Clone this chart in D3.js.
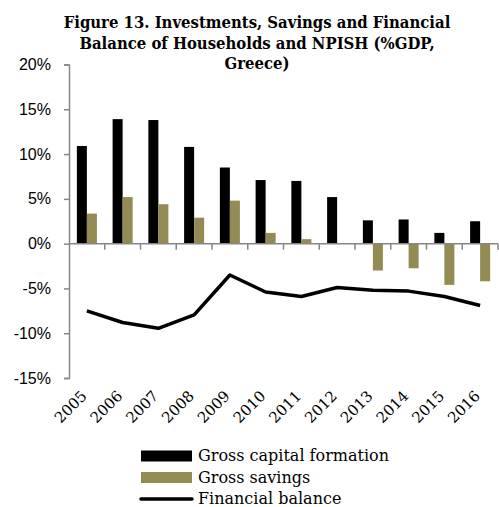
<!DOCTYPE html>
<html lang="en">
<head>
<meta charset="UTF-8">
<title>Figure 13</title>
<script src="https://d3js.org/d3.v7.min.js"></script>
<style>
    body { margin: 0; background: #fff; }
    svg { font-family: "DejaVu Serif", serif; }
    .title { font-family: "DejaVu Serif Condensed", "DejaVu Serif", serif; font-stretch: condensed; font-weight: bold; font-size: 16px; }
    .tick-label { font-size: 16px; fill: #000; }
    .year-label { font-size: 15px; fill: #000; }
    .legend-label { font-size: 16px; }
</style>
</head>
<body>
<svg id="chart" width="499" height="507"></svg>
<script>
    // Data
    const years = ["2005", "2006", "2007", "2008", "2009", "2010", "2011", "2012", "2013", "2014", "2015", "2016"];
    const grossCapital = [10.9, 13.9, 13.8, 10.8, 8.5, 7.1, 7.0, 5.2, 2.6, 2.7, 1.2, 2.5];
    const grossSavings = [3.35, 5.2, 4.4, 2.9, 4.8, 1.2, 0.5, 0.0, -3.0, -2.75, -4.6, -4.2];
    const financialBalance = [-7.5, -8.8, -9.45, -7.95, -3.5, -5.4, -5.9, -4.9, -5.2, -5.3, -5.9, -6.9];
    const yTicks = [-15, -10, -5, 0, 5, 10, 15, 20];
    const titleLines = ["Figure 13. Investments, Savings and Financial", "Balance of Households and NPISH (%GDP,", "Greece)"];
    const legendItems = ["Gross capital formation", "Gross savings", "Financial balance"];

    const olive = "#948a54";
    const axisGrey = "#868686";

    const svg = d3.select("#chart");

    const plot = { left: 69, right: 498, top: 64.5, bottom: 378 };

    const x = d3.scaleBand()
                .domain(years)
                .range([plot.left, plot.right])
                .padding(0);

    const y = d3.scaleLinear()
                .domain([-15, 20])
                .range([plot.bottom, plot.top]);

    const barW = x.bandwidth() * 0.28;

    // Title (font size fitted so the first line is as wide as in the original)
    const titles = svg.append("g").selectAll("text")
       .data(titleLines)
       .join("text")
       .attr("class", "title")
       .attr("x", 257)
       .attr("y", (d, i) => 28 + i * 20.5)
       .attr("text-anchor", "middle")
       .text(d => d);
    const w0 = titles.node().getComputedTextLength();
    titles.style("font-size", (16 * 387 / w0) + "px");

    // Bars
    svg.append("g").selectAll("rect")
       .data(years)
       .join("rect")
       .attr("x", d => x(d) + x.bandwidth() / 2 - barW)
       .attr("y", (d, i) => y(Math.max(0, grossCapital[i])))
       .attr("width", barW)
       .attr("height", (d, i) => Math.abs(y(grossCapital[i]) - y(0)))
       .attr("fill", "#000");

    svg.append("g").selectAll("rect")
       .data(years)
       .join("rect")
       .attr("x", d => x(d) + x.bandwidth() / 2)
       .attr("y", (d, i) => y(Math.max(0, grossSavings[i])))
       .attr("width", barW)
       .attr("height", (d, i) => Math.abs(y(grossSavings[i]) - y(0)))
       .attr("fill", olive);

    // Y axis
    const yAxis = svg.append("g")
       .attr("transform", `translate(${plot.left},0)`)
       .call(d3.axisLeft(y).tickValues(yTicks).tickSize(5).tickPadding(13).tickFormat(d => d + "%"));
    yAxis.select(".domain").attr("stroke", axisGrey).attr("stroke-width", 1.5);
    yAxis.selectAll(".tick line").attr("stroke", axisGrey).attr("stroke-width", 1.5);
    yAxis.selectAll(".tick text").attr("class", "tick-label").attr("font-family", null).attr("font-size", null);

    // X axis at zero with tick marks on category boundaries
    svg.append("line")
       .attr("x1", plot.left).attr("x2", plot.right)
       .attr("y1", y(0)).attr("y2", y(0))
       .attr("stroke", axisGrey).attr("stroke-width", 1.5);

    svg.append("g").selectAll("line")
       .data(years)
       .join("line")
       .attr("x1", d => x(d) + x.bandwidth())
       .attr("x2", d => x(d) + x.bandwidth())
       .attr("y1", y(0))
       .attr("y2", y(0) + 6)
       .attr("stroke", axisGrey).attr("stroke-width", 1.5);

    // Year labels along the bottom, rotated
    svg.append("g").selectAll("text")
       .data(years)
       .join("text")
       .attr("class", "year-label")
       .attr("text-anchor", "end")
       .attr("transform", d => `translate(${x(d) + x.bandwidth() / 2 + 1},${plot.bottom + 19}) rotate(-45)`)
       .text(d => d);

    // Financial balance line
    const line = d3.line()
                   .x((d, i) => x(years[i]) + x.bandwidth() / 2)
                   .y(d => y(d));

    svg.append("path")
       .datum(financialBalance)
       .attr("fill", "none")
       .attr("stroke", "#000")
       .attr("stroke-width", 3.5)
       .attr("stroke-linejoin", "round")
       .attr("d", line);

    // Legend
    const legend = svg.append("g").attr("transform", "translate(141,456)");
    legendItems.forEach((name, i) => {
        const g = legend.append("g").attr("transform", `translate(0,${i * 21.5})`);
        if (i < 2) {
            g.append("rect")
             .attr("x", 0).attr("y", -5.5)
             .attr("width", 51).attr("height", 11)
             .attr("fill", i === 0 ? "#000" : olive);
        } else {
            g.append("line")
             .attr("x1", 0).attr("x2", 51)
             .attr("y1", 0).attr("y2", 0)
             .attr("stroke", "#000").attr("stroke-width", 3.5)
             .attr("stroke-linecap", "round");
        }
        g.append("text")
         .attr("class", "legend-label")
         .attr("x", 57)
         .attr("dy", "0.32em")
         .text(name);
    });
</script>
</body>
</html>
